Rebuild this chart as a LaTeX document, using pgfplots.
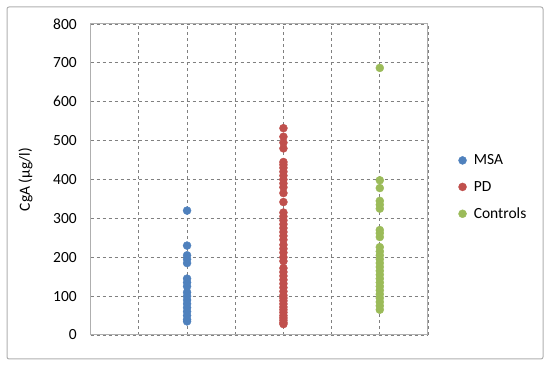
\documentclass[border=0pt]{standalone}
\usepackage{pgfplots}
\pgfplotsset{compat=1.18}
\usepackage{fontspec}
\setmainfont{Carlito}
\definecolor{msa}{RGB}{79,129,189}
\definecolor{pd}{RGB}{192,80,77}
\definecolor{ctrl}{RGB}{155,187,89}
\definecolor{gridc}{RGB}{128,128,128}
\definecolor{axc}{RGB}{175,175,175}
\begin{document}
\begin{tikzpicture}[x=1pt,y=1pt]
\useasboundingbox (0,0) rectangle (550,377);
\draw[color=axc, line width=1pt, rounded corners=2pt] (7,18) rectangle (543,370);
\begin{axis}[
  at={(90.7pt,42pt)}, anchor=south west,
  scale only axis, width=337.3pt, height=311pt,
  xmin=0, xmax=3.5, ymin=0, ymax=800,
  xtick={0.5,1,...,3.5}, xticklabels={}, 
  ytick={0,100,...,800},
  major tick length=0pt,
  grid=major,
  major grid style={color=gridc, dashed, line width=0.8pt},
  axis line style={color=axc, line width=1pt},
  tick label style={font=\fontsize{15.5}{18}\selectfont, color=black},
  /pgf/number format/assume math mode=true,
  yticklabel style={inner sep=0pt, xshift=-13.7pt},
  ylabel={CgA (µg/l)},
  ylabel style={font=\fontsize{15.5}{18}\selectfont, at={(axis description cs:-0.193,0.5)}, anchor=center},
  legend style={draw=none, fill=none, font=\fontsize{15.5}{18}\selectfont, at={(axis description cs:1.09,0.475)}, anchor=west, row sep=11pt, inner sep=0pt},
  legend cell align=left,
  legend image code/.code={\draw[#1] plot coordinates {(0pt,0pt)}; \path (9pt,0pt);},
  every axis plot/.append style={only marks, mark=*, mark size=4pt},
]
\addplot[color=msa, mark options={fill=msa, draw=msa}] coordinates {
(1,320) (1,230) (1,205) (1,195) (1,185) (1,145) (1,135) (1,125) (1,110) (1,100)
(1,90) (1,80) (1,70) (1,60) (1,50) (1,40) (1,35)};
\addlegendentry{MSA}
\addplot[color=pd, mark options={fill=pd, draw=pd}] coordinates {
(2,532) (2,510) (2,495) (2,480) (2,445) (2,438) (2,430) (2,420) (2,410) (2,400)
(2,390) (2,380) (2,365) (2,342) (2,315) (2,305) (2,295) (2,285) (2,275) (2,265)
(2,255) (2,245) (2,232) (2,222) (2,212) (2,200) (2,190) (2,172) (2,162) (2,152)
(2,142) (2,132) (2,122) (2,112) (2,102) (2,95) (2,88) (2,80) (2,72) (2,65)
(2,58) (2,50) (2,44) (2,38) (2,32) (2,28)};
\addlegendentry{PD}
\addplot[color=ctrl, mark options={fill=ctrl, draw=ctrl}] coordinates {
(3,687) (3,398) (3,378) (3,345) (3,335) (3,325) (3,270) (3,262) (3,252) (3,226)
(3,215) (3,205) (3,195) (3,185) (3,175) (3,165) (3,155) (3,145) (3,135) (3,125)
(3,115) (3,105) (3,95) (3,85) (3,75) (3,65)};
\addlegendentry{Controls}
\end{axis}
\end{tikzpicture}
\end{document}
